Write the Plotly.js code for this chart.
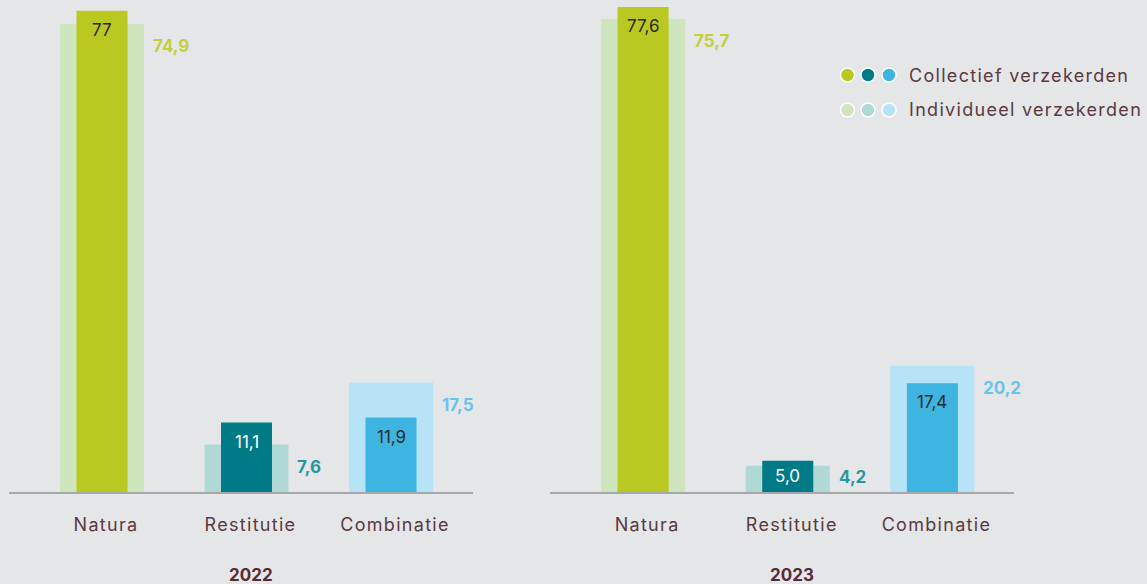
<!DOCTYPE html>
<html>
<head>
<meta charset="utf-8">
<script src="https://cdn.plot.ly/plotly-3.0.1.min.js"></script>
<style>
  html, body { margin: 0; padding: 0; background: #e5e6e8; }
  #chart { width: 1147px; height: 584px; }
</style>
</head>
<body>
<div id="chart"></div>
<script>
// ---- data ----
const categories = ['Natura', 'Restitutie', 'Combinatie'];
const years = ['2022', '2023'];
const collectief2022 = [77, 11.1, 11.9];
const individueel2022 = [74.9, 7.6, 17.5];
const collectief2023 = [77.6, 5.0, 17.4];
const individueel2023 = [75.7, 4.2, 20.2];
const collectiefText2022 = ['77', '11,1', '11,9'];
const individueelText2022 = ['74,9', '7,6', '17,5'];
const collectiefText2023 = ['77,6', '5,0', '17,4'];
const individueelText2023 = ['75,7', '4,2', '20,2'];
const legendNames = ['Collectief verzekerden', 'Individueel verzekerden'];

// ---- style ----
const FONT = 'Inter, "Open Sans", sans-serif';
const BG = '#e5e6e8';
const darkColors = ['#b9c922', '#007a87', '#3db5e0'];
const lightColors = ['#cfe5bd', '#b0d9d6', '#b7e3f7'];
const lightTextColors = ['#c4cf3e', '#2796a3', '#6cc3ea'];
const darkTextColors = ['#2a2a2a', '#ffffff', '#2a2a2a'];
const textBrown = '#5a3a3f';
const W = 1147, H = 584;
const MT = 2, MB = 92;
const YMAX = 78.4;
const plotH = H - MT - MB;
const pxPerUnit = plotH / YMAX;
const lightWidth = 0.581, darkWidth = 0.353;
const xr = [-0.6436, 2.564];
const dom1 = [9 / W, 472.5 / W];
const dom2 = [550 / W, 1014 / W];
const spaced = s => '<span style="letter-spacing:1.3px">' + s + '</span>';

const panels = [
  {coll: collectief2022, ind: individueel2022, ct: collectiefText2022, it: individueelText2022, xa: 'x', ya: 'y', year: years[0]},
  {coll: collectief2023, ind: individueel2023, ct: collectiefText2023, it: individueelText2023, xa: 'x2', ya: 'y2', year: years[1]}
];

const traces = [];
const annotations = [];
panels.forEach((p, k) => {
  traces.push({
    type: 'bar', x: categories, y: p.ind, width: lightWidth,
    marker: {color: lightColors, line: {width: 0}},
    xaxis: p.xa, yaxis: p.ya, showlegend: false, hoverinfo: 'skip'
  });
  traces.push({
    type: 'bar', x: categories, y: p.coll, width: darkWidth,
    marker: {color: darkColors, line: {width: 0}},
    xaxis: p.xa, yaxis: p.ya, showlegend: false, hoverinfo: 'skip'
  });
  categories.forEach((c, i) => {
    annotations.push({
      xref: p.xa, yref: p.ya, x: i, y: p.coll[i], text: p.ct[i],
      showarrow: false, xanchor: 'center', yanchor: 'middle',
      yshift: -Math.min(19, p.coll[i] * pxPerUnit / 2),
      font: {family: FONT, size: 17, color: darkTextColors[i]}
    });
    annotations.push({
      xref: p.xa, yref: p.ya, x: i + lightWidth / 2, y: p.ind[i], text: '<b>' + p.it[i] + '</b>',
      showarrow: false, xanchor: 'left', yanchor: 'middle', xshift: 7,
      yshift: -Math.min(22, p.ind[i] * pxPerUnit - 15),
      font: {family: FONT, size: 17, color: lightTextColors[i]}
    });
  });
  annotations.push({
    xref: p.xa + ' domain', yref: 'paper', x: 0.522, y: (492 - 575) / plotH,
    text: '<b>' + p.year + '</b>', showarrow: false, xanchor: 'center', yanchor: 'middle',
    font: {family: FONT, size: 17, color: '#572c33'}
  });
});

// custom legend
const shapes = [];
const rowsPx = [75, 110];
const dotsPx = [847.5, 868, 889];
[darkColors, lightColors].forEach((cols, r) => {
  cols.forEach((col, j) => {
    shapes.push({
      type: 'circle', xref: 'paper', yref: 'paper',
      xsizemode: 'pixel', ysizemode: 'pixel',
      xanchor: dotsPx[j] / W, yanchor: (H - MB - rowsPx[r]) / plotH,
      x0: -7, x1: 7, y0: -7, y1: 7,
      fillcolor: col, line: {color: '#ffffff', width: 1.5}
    });
  });
  annotations.push({
    xref: 'paper', yref: 'paper', x: 907 / W, y: (H - MB - rowsPx[r]) / plotH,
    text: spaced(legendNames[r]), showarrow: false, xanchor: 'left', yanchor: 'middle',
    font: {family: FONT, size: 18, color: textBrown}
  });
});

const xaxisBase = {
  type: 'category', range: xr, showgrid: false, zeroline: false,
  showline: true, linecolor: '#a8a9ab', linewidth: 2,
  tickmode: 'array', tickvals: categories, ticktext: categories.map(spaced),
  ticks: '', ticklabelstandoff: 15, ticklabelshift: 4,
  tickfont: {family: FONT, size: 18, color: textBrown}, fixedrange: true
};
const yaxisBase = {
  range: [0, YMAX], visible: false, showgrid: false, zeroline: false, fixedrange: true
};

const layout = {
  width: W, height: H,
  margin: {l: 0, r: 0, t: MT, b: MB, pad: 0},
  paper_bgcolor: BG, plot_bgcolor: BG,
  barmode: 'overlay', showlegend: false,
  font: {family: FONT, color: textBrown},
  xaxis: Object.assign({}, xaxisBase, {domain: dom1, anchor: 'y'}),
  xaxis2: Object.assign({}, xaxisBase, {domain: dom2, anchor: 'y2'}),
  yaxis: Object.assign({}, yaxisBase, {anchor: 'x'}),
  yaxis2: Object.assign({}, yaxisBase, {anchor: 'x2'}),
  annotations: annotations, shapes: shapes
};

Plotly.newPlot('chart', traces, layout, {displayModeBar: false, staticPlot: true});
</script>
</body>
</html>
